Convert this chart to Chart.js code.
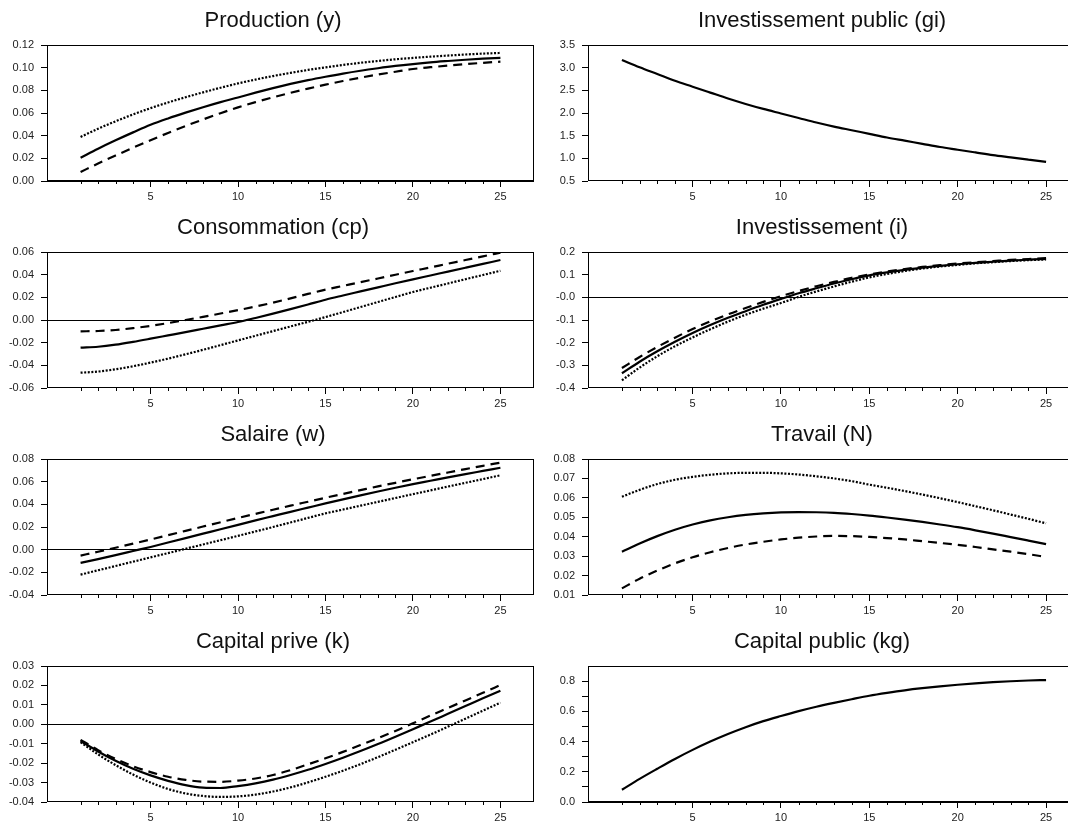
<!DOCTYPE html>
<html>
<head>
<meta charset="utf-8">
<script src="https://cdn.jsdelivr.net/npm/chart.js@4.4.0/dist/chart.umd.min.js"></script>
<style>
  html, body { margin: 0; padding: 0; background: #fff; overflow: hidden; }
  #grid { position: relative; width: 1068px; height: 823px; overflow: hidden; }
  .cell { position: absolute; }
</style>
</head>
<body>
<div id="grid"></div>
<script>
// Horizon (periods after the shock)
const periods = [1,2,3,4,5,6,7,8,9,10,11,12,13,14,15,16,17,18,19,20,21,22,23,24,25];
const xTickLabels = ['5','10','15','20','25'];

// Production (y)
const prodBase = [0.0206,0.0285,0.0359,0.0429,0.0496,0.0552,0.0603,0.0651,0.0696,0.0737,0.0780,0.0820,0.0857,0.0890,0.0920,0.0948,0.0973,0.0995,0.1015,0.1032,0.1047,0.1059,0.1070,0.1079,0.1086];
const prodAltA = [0.0080,0.0154,0.0225,0.0294,0.0360,0.0424,0.0485,0.0543,0.0598,0.0650,0.0696,0.0738,0.0778,0.0815,0.0850,0.0882,0.0912,0.0939,0.0964,0.0988,0.1004,0.1018,0.1031,0.1043,0.1053];
const prodAltB = [0.0389,0.0461,0.0527,0.0587,0.0643,0.0693,0.0739,0.0782,0.0823,0.0861,0.0895,0.0926,0.0954,0.0980,0.1003,0.1024,0.1043,0.1059,0.1074,0.1086,0.1097,0.1107,0.1116,0.1124,0.1130];
const prodTickLabels = ['0.00','0.02','0.04','0.06','0.08','0.10','0.12'];

// Investissement public (gi)
const giBase = [3.17,3.01,2.86,2.71,2.58,2.45,2.32,2.20,2.09,1.99,1.89,1.79,1.70,1.62,1.54,1.46,1.39,1.32,1.25,1.19,1.13,1.07,1.02,0.97,0.92];
const giTickLabels = ['0.5','1.0','1.5','2.0','2.5','3.0','3.5'];

// Consommation (cp)
const cpBase = [-0.0244,-0.0236,-0.0218,-0.0193,-0.0165,-0.0136,-0.0107,-0.0077,-0.0047,-0.0018,0.0018,0.0056,0.0096,0.0137,0.0179,0.0216,0.0252,0.0288,0.0324,0.0359,0.0393,0.0427,0.0461,0.0495,0.0529];
const cpAltA = [-0.0100,-0.0097,-0.0088,-0.0072,-0.0052,-0.0027,0.0000,0.0028,0.0057,0.0087,0.0119,0.0153,0.0191,0.0230,0.0268,0.0301,0.0334,0.0366,0.0399,0.0432,0.0464,0.0497,0.0529,0.0562,0.0594];
const cpAltB = [-0.0465,-0.0455,-0.0435,-0.0408,-0.0376,-0.0341,-0.0303,-0.0263,-0.0222,-0.0180,-0.0139,-0.0098,-0.0057,-0.0016,0.0026,0.0070,0.0114,0.0159,0.0203,0.0247,0.0285,0.0322,0.0360,0.0397,0.0435];
const cpTickLabels = ['-0.06','-0.04','-0.02','0.00','0.02','0.04','0.06'];

// Investissement (i)
const invBase = [-0.335,-0.284,-0.238,-0.196,-0.157,-0.122,-0.090,-0.061,-0.033,-0.007,0.018,0.040,0.061,0.080,0.097,0.110,0.121,0.131,0.139,0.146,0.152,0.157,0.162,0.166,0.170];
const invAltA = [-0.312,-0.263,-0.219,-0.178,-0.140,-0.106,-0.075,-0.047,-0.020,0.005,0.028,0.049,0.068,0.086,0.101,0.114,0.125,0.134,0.142,0.149,0.155,0.160,0.165,0.169,0.173];
const invAltB = [-0.366,-0.310,-0.260,-0.216,-0.177,-0.141,-0.107,-0.077,-0.050,-0.025,0.002,0.026,0.048,0.069,0.088,0.103,0.116,0.127,0.136,0.143,0.150,0.155,0.160,0.164,0.167];
const invTickLabels = ['-0.4','-0.3','-0.2','-0.1','-0.0','0.1','0.2'];

// Salaire (w)
const wBase = [-0.0117,-0.0083,-0.0048,-0.0012,0.0024,0.0063,0.0102,0.0141,0.0180,0.0219,0.0258,0.0296,0.0334,0.0371,0.0408,0.0444,0.0479,0.0513,0.0546,0.0578,0.0608,0.0638,0.0667,0.0695,0.0723];
const wAltA = [-0.0052,-0.0018,0.0017,0.0053,0.0090,0.0128,0.0166,0.0204,0.0242,0.0280,0.0316,0.0352,0.0388,0.0423,0.0458,0.0492,0.0525,0.0558,0.0590,0.0621,0.0651,0.0681,0.0711,0.0740,0.0768];
const wAltB = [-0.0220,-0.0182,-0.0144,-0.0106,-0.0068,-0.0030,0.0008,0.0046,0.0084,0.0122,0.0161,0.0200,0.0240,0.0280,0.0320,0.0354,0.0388,0.0422,0.0456,0.0490,0.0523,0.0557,0.0590,0.0623,0.0656];
const wTickLabels = ['-0.04','-0.02','0.00','0.02','0.04','0.06','0.08'];

// Travail (N)
const nBase = [0.0323,0.0365,0.0403,0.0436,0.0463,0.0484,0.0500,0.0512,0.0520,0.0525,0.0527,0.0526,0.0523,0.0517,0.0509,0.0499,0.0488,0.0476,0.0463,0.0449,0.0433,0.0416,0.0398,0.0380,0.0362];
const nAltA = [0.0134,0.0184,0.0226,0.0263,0.0294,0.0320,0.0342,0.0360,0.0374,0.0386,0.0395,0.0401,0.0404,0.0403,0.0399,0.0393,0.0386,0.0377,0.0368,0.0358,0.0347,0.0335,0.0323,0.0310,0.0296];
const nAltB = [0.0606,0.0641,0.0671,0.0693,0.0708,0.0719,0.0726,0.0729,0.0729,0.0726,0.0720,0.0711,0.0700,0.0686,0.0668,0.0652,0.0635,0.0617,0.0598,0.0578,0.0557,0.0536,0.0514,0.0492,0.0469];
const nTickLabels = ['0.01','0.02','0.03','0.04','0.05','0.06','0.07','0.08'];

// Capital prive (k)
const kBase = [-0.0086,-0.0140,-0.0188,-0.0229,-0.0263,-0.0291,-0.0313,-0.0326,-0.0328,-0.0318,-0.0304,-0.0285,-0.0261,-0.0234,-0.0204,-0.0172,-0.0138,-0.0102,-0.0064,-0.0025,0.0014,0.0054,0.0094,0.0134,0.0173];
const kAltA = [-0.0080,-0.0133,-0.0178,-0.0216,-0.0246,-0.0270,-0.0286,-0.0295,-0.0296,-0.0290,-0.0279,-0.0261,-0.0236,-0.0206,-0.0175,-0.0142,-0.0107,-0.0071,-0.0034,0.0005,0.0045,0.0084,0.0123,0.0162,0.0202];
const kAltB = [-0.0092,-0.0155,-0.0210,-0.0259,-0.0300,-0.0333,-0.0356,-0.0369,-0.0374,-0.0371,-0.0362,-0.0346,-0.0325,-0.0299,-0.0270,-0.0239,-0.0205,-0.0169,-0.0131,-0.0092,-0.0053,-0.0012,0.0029,0.0070,0.0111];
const kTickLabels = ['-0.04','-0.03','-0.02','-0.01','0.00','0.01','0.02','0.03'];

// Capital public (kg)
const kgBase = [0.081,0.153,0.220,0.285,0.345,0.400,0.450,0.495,0.535,0.569,0.601,0.630,0.656,0.680,0.703,0.722,0.739,0.753,0.765,0.776,0.785,0.793,0.799,0.804,0.807];
const kgTickValues = [0,0.1,0.2,0.3,0.4,0.5,0.6,0.7,0.8];
const kgTickLabels = ['0.0','','0.2','','0.4','','0.6','','0.8'];

const FONT = "'Liberation Sans', Arial, Helvetica, sans-serif";
const LINE_STYLES = {
  solid: [],
  dash: [9, 6],
  dot: [2, 1.6]
};

const panels = [
  { title: 'Production (y)', series: [[prodAltB, 'dot'], [prodAltA, 'dash'], [prodBase, 'solid']], labels: prodTickLabels },
  { title: 'Investissement public (gi)', series: [[giBase, 'solid']], labels: giTickLabels },
  { title: 'Consommation (cp)', series: [[cpAltB, 'dot'], [cpAltA, 'dash'], [cpBase, 'solid']], labels: cpTickLabels },
  { title: 'Investissement (i)', series: [[invAltB, 'dot'], [invAltA, 'dash'], [invBase, 'solid']], labels: invTickLabels },
  { title: 'Salaire (w)', series: [[wAltB, 'dot'], [wAltA, 'dash'], [wBase, 'solid']], labels: wTickLabels },
  { title: 'Travail (N)', series: [[nAltB, 'dot'], [nAltA, 'dash'], [nBase, 'solid']], labels: nTickLabels },
  { title: 'Capital prive (k)', series: [[kAltB, 'dot'], [kAltA, 'dash'], [kBase, 'solid']], labels: kTickLabels },
  { title: 'Capital public (kg)', series: [[kgBase, 'solid']], labels: kgTickLabels, values: kgTickValues, yMax: 0.9 }
];

// Panel heading, box around the plot area and the short unlabelled period ticks
const framePlugin = {
  id: 'frame',
  afterDraw(chart, args, opts) {
    const { ctx, chartArea: a, scales: { x } } = chart;
    const L = Math.round(a.left) + 0.5, T = Math.round(a.top) + 0.5;
    const R = Math.round(a.right) - 0.5, B = Math.round(a.bottom) - 0.5;
    ctx.save();
    ctx.fillStyle = '#111';
    ctx.font = '22px ' + FONT;
    ctx.textAlign = 'center';
    ctx.textBaseline = 'middle';
    ctx.fillText(opts.title, opts.titleX, 21.2);

    ctx.strokeStyle = '#000';
    ctx.lineWidth = 1;
    ctx.strokeRect(L, T, R - L, B - T);
    ctx.beginPath();
    periods.forEach(t => {
      if (xTickLabels.indexOf(String(t)) === -1) {
        const px = Math.round(x.getPixelForValue(t)) + 0.5;
        ctx.moveTo(px, B);
        ctx.lineTo(px, B + 3.5);
      }
    });
    ctx.stroke();
    ctx.restore();
  }
};

const grid = document.getElementById('grid');
const ROW_H = 207;
const TOP_SPACE = 45;

panels.forEach((p, i) => {
  const col = i % 2, row = Math.floor(i / 2);
  const canvasW = col ? 560 : 536;
  const axisW = col ? 54 : 47;
  const padRight = col ? 14 : 2;
  const titleX = col ? 288 : 273;

  const cell = document.createElement('div');
  cell.className = 'cell';
  cell.style.left = (col ? 534 : 0) + 'px';
  cell.style.top = (row * ROW_H) + 'px';
  const canvas = document.createElement('canvas');
  canvas.width = canvasW;
  canvas.height = ROW_H;
  canvas.style.width = canvasW + 'px';
  canvas.style.height = ROW_H + 'px';
  cell.appendChild(canvas);
  grid.appendChild(cell);

  const tickValues = p.values || p.labels.map(s => parseFloat(s));
  const yMin = tickValues[0];
  const yMax = p.yMax !== undefined ? p.yMax : tickValues[tickValues.length - 1];

  const datasets = p.series.map(([vals, style]) => ({
    data: periods.map((t, k) => ({ x: t, y: vals[k] })),
    borderColor: '#000',
    borderWidth: 2.2,
    borderDash: LINE_STYLES[style],
    pointRadius: 0,
    fill: false,
    cubicInterpolationMode: 'monotone'
  }));

  new Chart(canvas, {
    type: 'line',
    data: { datasets },
    plugins: [framePlugin],
    options: {
      responsive: false,
      animation: false,
      devicePixelRatio: 1,
      layout: { padding: { left: 0, right: padRight, top: TOP_SPACE, bottom: 0 } },
      plugins: {
        legend: { display: false },
        tooltip: { enabled: false },
        title: { display: false },
        frame: { title: p.title, titleX: titleX }
      },
      scales: {
        x: {
          type: 'linear',
          min: -0.92,
          max: 26.92,
          afterBuildTicks: axis => { axis.ticks = xTickLabels.map(s => ({ value: parseFloat(s) })); },
          afterFit: axis => { axis.height = 26; },
          border: { display: false },
          grid: { drawOnChartArea: false, drawTicks: true, tickLength: 6, tickColor: '#000', lineWidth: 1 },
          ticks: {
            color: '#222',
            padding: 3,
            maxRotation: 0,
            font: { family: FONT, size: 11 },
            callback: (v, idx) => xTickLabels[idx]
          }
        },
        y: {
          type: 'linear',
          min: yMin,
          max: yMax,
          afterBuildTicks: axis => { axis.ticks = tickValues.map(v => ({ value: v })); },
          afterFit: axis => { axis.width = axisW; },
          border: { display: false },
          grid: {
            drawOnChartArea: true,
            drawTicks: true,
            tickLength: 6,
            tickColor: '#000',
            lineWidth: 1,
            color: c => (c.tick && Math.abs(c.tick.value) < 1e-9) ? '#000' : 'rgba(0,0,0,0)'
          },
          ticks: {
            color: '#222',
            padding: 7,
            font: { family: FONT, size: 11 },
            callback: (v, idx) => p.labels[idx]
          }
        }
      }
    }
  });
});
</script>
</body>
</html>
